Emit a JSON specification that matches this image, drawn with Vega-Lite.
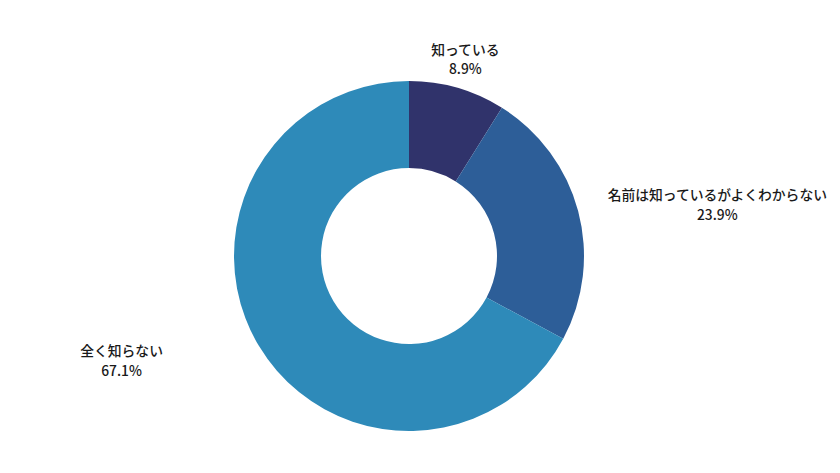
{
  "$schema": "https://vega.github.io/schema/vega-lite/v6.json",
  "width": 818,
  "height": 434,
  "autosize": {"type": "none"},
  "padding": {"left": 0, "top": 39, "right": 22, "bottom": 0},
  "background": "white",
  "config": {"view": {"stroke": null}},
  "data": {
    "values": [
      {"cat": "知っている", "value": 8.9, "order": 1, "label": "知っている\n8.9%"},
      {"cat": "名前は知っているがよくわからない", "value": 23.9, "order": 2, "label": "名前は知っているがよくわからない\n23.9%"},
      {"cat": "全く知らない", "value": 67.1, "order": 3, "label": "全く知らない\n67.1%"}
    ]
  },
  "encoding": {
    "theta": {"field": "value", "type": "quantitative", "stack": true},
    "order": {"field": "order", "type": "quantitative"}
  },
  "layer": [
    {
      "mark": {"type": "arc", "outerRadius": 175, "innerRadius": 88, "strokeWidth": 0},
      "encoding": {
        "color": {
          "field": "cat",
          "type": "nominal",
          "scale": {
            "domain": ["知っている", "名前は知っているがよくわからない", "全く知らない"],
            "range": ["#30336b", "#2d5e98", "#2e8ab9"]
          },
          "legend": null
        }
      }
    },
    {
      "mark": {"type": "text", "radius": 204, "dy": -9, "font": "Noto Sans CJK JP", "fontSize": 13.8, "fontWeight": 500, "lineBreak": "\n", "lineHeight": 19.5, "align": "center", "baseline": "middle", "color": "#1a1a1a"},
      "encoding": {
        "text": {"condition": {"test": "datum.cat === '知っている'", "field": "label"}, "value": ""}
      }
    },
    {
      "mark": {"type": "text", "radius": 319, "dy": 22, "font": "Noto Sans CJK JP", "fontSize": 13.8, "fontWeight": 500, "lineBreak": "\n", "lineHeight": 19.5, "align": "center", "baseline": "middle", "color": "#1a1a1a"},
      "encoding": {
        "text": {"condition": {"test": "datum.cat === '名前は知っているがよくわからない'", "field": "label"}, "value": ""}
      }
    },
    {
      "mark": {"type": "text", "radius": 335, "dy": -76, "font": "Noto Sans CJK JP", "fontSize": 13.8, "fontWeight": 500, "lineBreak": "\n", "lineHeight": 19.5, "align": "center", "baseline": "middle", "color": "#1a1a1a"},
      "encoding": {
        "text": {"condition": {"test": "datum.cat === '全く知らない'", "field": "label"}, "value": ""}
      }
    }
  ]
}
